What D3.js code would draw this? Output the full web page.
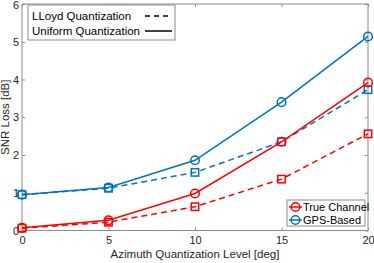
<!DOCTYPE html>
<html><head><meta charset="utf-8">
<script src="https://cdn.jsdelivr.net/npm/d3@7"></script>
<style>body{margin:0;background:#fff;}svg{display:block;font-family:"Liberation Sans",Arial,sans-serif;}</style>
</head><body><svg id="c" width="374" height="263"></svg>
<script>
const levels = [0, 5, 10, 15, 20];
const trueUniform = [0.07, 0.27, 0.98, 2.35, 3.92];
const trueLloyd   = [0.06, 0.22, 0.63, 1.36, 2.56];
const gpsUniform  = [0.95, 1.14, 1.86, 3.40, 5.14];
const gpsLloyd    = [0.95, 1.12, 1.54, 2.35, 3.73];
const xTicks = [0, 5, 10, 15, 20];
const yTicks = [0, 1, 2, 3, 4, 5, 6];

const red = "#FF0000", blue = "#0072BD", axc = "#8c8c8c", txt = "#262626";
const svg = d3.select("#c");
const L = 22, R = 368, T = 4, B = 230.5;
const x = d3.scaleLinear().domain([0, 20]).range([L, R]);
const y = d3.scaleLinear().domain([0, 6]).range([B, T]);

svg.append("rect").attr("x", L).attr("y", T).attr("width", R - L).attr("height", B - T)
  .attr("fill", "none").attr("stroke", axc).attr("stroke-width", 1);

const gx = svg.append("g").attr("transform", `translate(0,${B})`)
  .call(d3.axisBottom(x).tickValues(xTicks).tickSize(-3).tickPadding(6).tickFormat(d3.format("d")));
const gxt = svg.append("g").attr("transform", `translate(0,${T})`)
  .call(d3.axisTop(x).tickValues(xTicks).tickSize(-3).tickFormat(""));
const gy = svg.append("g").attr("transform", `translate(${L},0)`)
  .call(d3.axisLeft(y).tickValues(yTicks).tickSize(-3).tickPadding(3).tickFormat(d3.format("d")));
const gyr = svg.append("g").attr("transform", `translate(${R},0)`)
  .call(d3.axisRight(y).tickValues(yTicks).tickSize(-3).tickFormat(""));
[gx, gxt, gy, gyr].forEach(g => {
  g.select(".domain").remove();
  g.selectAll("line").attr("stroke", axc);
  g.selectAll("text").attr("fill", txt).attr("font-size", 11).attr("font-family", '"Liberation Sans",Arial,sans-serif');
});
gy.selectAll(".tick").filter(d => d === 6).select("text").attr("dy", "0.45em");

svg.append("text").attr("x", (L + R) / 2).attr("y", 258).attr("text-anchor", "middle")
  .attr("font-size", 11.5).attr("fill", txt).text("Azimuth Quantization Level [deg]");
svg.append("text").attr("transform", `translate(9,${(T + B) / 2}) rotate(-90)`).attr("text-anchor", "middle")
  .attr("font-size", 11.5).attr("fill", txt).text("SNR Loss [dB]");

const line = d3.line().x((d, i) => x(levels[i])).y(d => y(d));
const series = [
  {v: gpsUniform, c: blue, dash: null, m: "circle"},
  {v: gpsLloyd, c: blue, dash: "6,4", m: "square"},
  {v: trueUniform, c: red, dash: null, m: "circle"},
  {v: trueLloyd, c: red, dash: "6,4", m: "square"},
];
function marker(g, type, cx, cy, c) {
  if (type === "circle") g.append("circle").attr("cx", cx).attr("cy", cy).attr("r", 4.3)
    .attr("fill", "none").attr("stroke", c).attr("stroke-width", 1.5);
  else g.append("rect").attr("x", cx - 3.7).attr("y", cy - 3.7).attr("width", 7.4).attr("height", 7.4)
    .attr("fill", "none").attr("stroke", c).attr("stroke-width", 1.5);
}
const plot = svg.append("g");
series.forEach(s => {
  plot.append("path").attr("d", line(s.v)).attr("fill", "none").attr("stroke", s.c)
    .attr("stroke-width", 1.5).attr("stroke-dasharray", s.dash);
  s.v.forEach((d, i) => marker(plot, s.m, x(levels[i]), y(d), s.c));
});

// legend top-left
const lg = svg.append("g");
lg.append("rect").attr("x", 28).attr("y", 5).attr("width", 147).attr("height", 35)
  .attr("fill", "#fff").attr("stroke", axc);
lg.append("text").attr("x", 32).attr("y", 20).attr("font-size", 11.5).attr("fill", "#000").text("LLoyd Quantization");
lg.append("text").attr("x", 32).attr("y", 35).attr("font-size", 11.5).attr("fill", "#000").text("Uniform Quantization");
lg.append("line").attr("x1", 145).attr("x2", 172).attr("y1", 16).attr("y2", 16).attr("stroke", "#000")
  .attr("stroke-width", 1.5).attr("stroke-dasharray", "5,4");
lg.append("line").attr("x1", 145).attr("x2", 172).attr("y1", 31).attr("y2", 31).attr("stroke", "#000").attr("stroke-width", 1.5);

// legend bottom-right
const lg2 = svg.append("g");
lg2.append("rect").attr("x", 287).attr("y", 200).attr("width", 78).attr("height", 26)
  .attr("fill", "#fff").attr("stroke", axc);
[["True Channel", red, 207], ["GPS-Based", blue, 220]].forEach(([t, c, yy]) => {
  lg2.append("line").attr("x1", 289).attr("x2", 302).attr("y1", yy).attr("y2", yy).attr("stroke", c).attr("stroke-width", 1.5);
  marker(lg2, "circle", 295.5, yy, c);
  lg2.append("text").attr("x", 303).attr("y", yy + 4).attr("font-size", 11).attr("fill", "#000").text(t);
});
</script></body></html>
